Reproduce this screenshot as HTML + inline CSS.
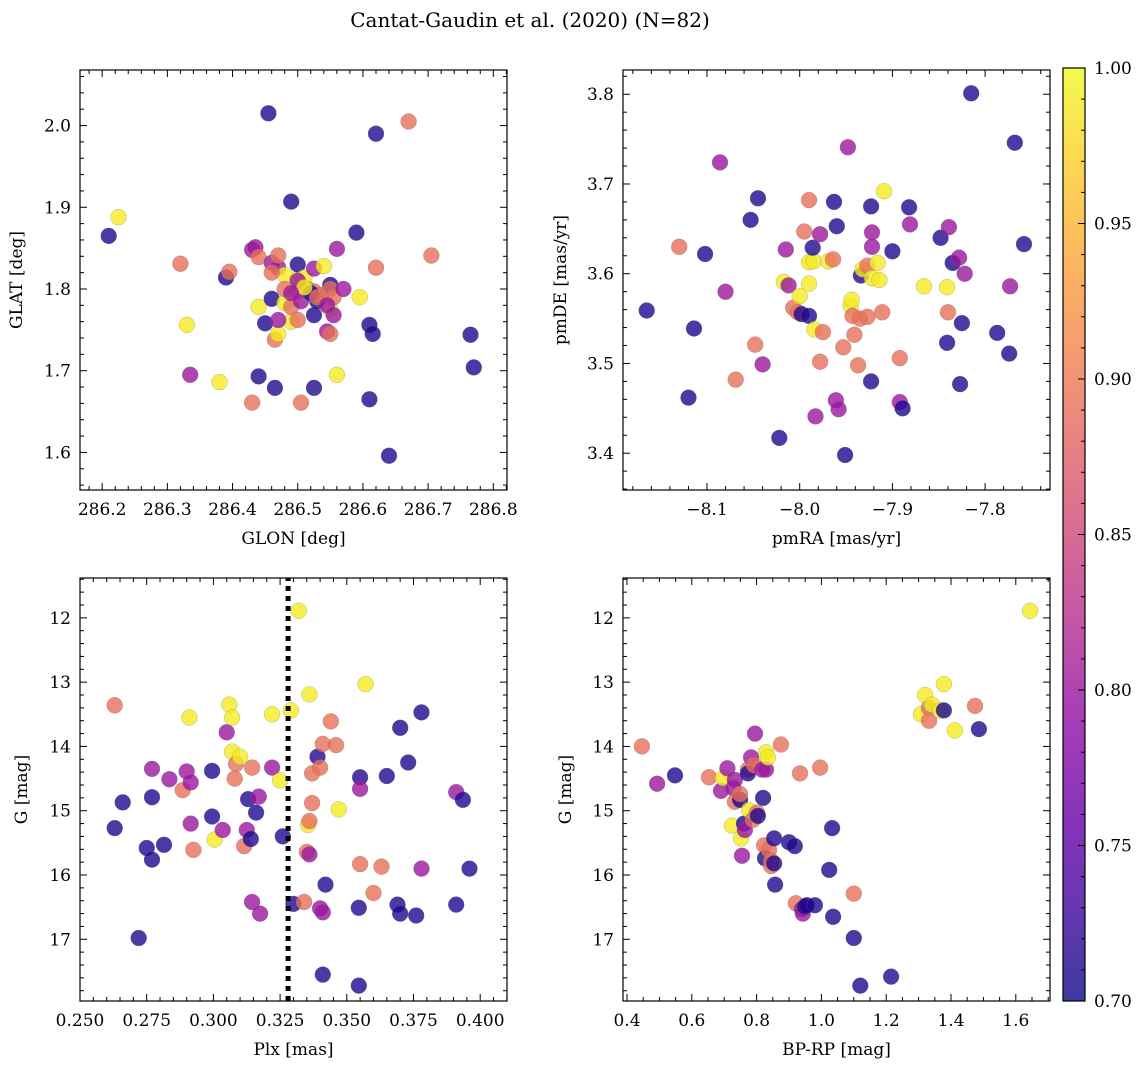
<!DOCTYPE html>
<html><head><meta charset="utf-8"><style>
body{margin:0;background:#fff;}
svg text{font-family:"DejaVu Serif","Liberation Serif",serif;fill:#000;}
</style></head><body>
<svg id="fig" width="1148" height="1068" viewBox="0 0 1148 1068" xmlns="http://www.w3.org/2000/svg">
<text x="530" y="27" font-size="20" text-anchor="middle">Cantat-Gaudin et al. (2020) (N=82)</text>
</svg>
<script>
// ---- Panel 1: GLON vs GLAT ----
const p1Glon=[286.21,286.225,286.32,286.33,286.335,286.38,286.39,286.395,286.43,286.43,286.435,286.44,286.44,286.44,286.45,286.455,286.46,286.46,286.465,286.465,286.47,286.47,286.47,286.48,286.48,286.49,286.49,286.49,286.5,286.5,286.5,286.505,286.505,286.51,286.515,286.525,286.525,286.525,286.525,286.53,286.535,286.54,286.545,286.55,286.55,286.55,286.55,286.555,286.56,286.56,286.555,286.57,286.59,286.595,286.61,286.61,286.615,286.62,286.62,286.64,286.67,286.705,286.765,286.77,286.5,286.52,286.48,286.46,286.51,286.53,286.49,286.545,286.5,286.47];
const p1Glat=[1.865,1.888,1.831,1.756,1.695,1.686,1.814,1.821,1.661,1.848,1.851,1.839,1.778,1.693,1.758,2.015,1.788,1.832,1.679,1.738,1.826,1.841,1.745,1.817,1.783,1.760,1.907,1.778,1.812,1.830,1.797,1.661,1.785,1.814,1.800,1.797,1.768,1.825,1.679,1.785,1.793,1.828,1.748,1.805,1.775,1.800,1.745,1.790,1.695,1.849,1.768,1.800,1.869,1.790,1.756,1.665,1.745,1.990,1.826,1.596,2.005,1.841,1.744,1.704,1.810,1.795,1.800,1.820,1.802,1.790,1.795,1.780,1.762,1.762];
const p1Prob=[0.71,0.99,0.89,0.99,0.80,0.99,0.71,0.89,0.89,0.80,0.80,0.89,0.99,0.71,0.71,0.71,0.71,0.80,0.71,0.89,0.80,0.89,0.99,0.99,0.99,0.99,0.71,0.89,0.99,0.71,0.89,0.89,0.80,0.99,0.89,0.89,0.71,0.80,0.71,0.71,0.89,0.99,0.80,0.71,0.99,0.89,0.89,0.89,0.99,0.80,0.80,0.80,0.71,0.99,0.71,0.71,0.71,0.71,0.89,0.71,0.89,0.89,0.71,0.71,0.80,0.71,0.89,0.89,0.99,0.89,0.80,0.80,0.89,0.80];
const p1XTicks=[286.2,286.3,286.4,286.5,286.6,286.7,286.8];
const p1YTicks=[1.6,1.7,1.8,1.9,2.0];
// ---- Panel 2: pmRA vs pmDE ----
const p2Pmra=[-8.165,-8.13,-8.102,-8.114,-8.12,-8.086,-8.08,-8.069,-8.053,-8.045,-8.048,-8.04,-8.022,-8.015,-8.017,-8.012,-8.007,-8.002,-8.0,-7.998,-7.995,-7.99,-7.99,-7.985,-7.99,-7.99,-7.986,-7.984,-7.983,-7.978,-7.975,-7.978,-7.969,-7.964,-7.96,-7.963,-7.961,-7.958,-7.951,-7.953,-7.948,-7.945,-7.944,-7.943,-7.941,-7.937,-7.935,-7.934,-7.932,-7.927,-7.927,-7.923,-7.923,-7.922,-7.922,-7.922,-7.916,-7.911,-7.909,-7.914,-7.9,-7.892,-7.892,-7.889,-7.881,-7.882,-7.866,-7.848,-7.841,-7.839,-7.835,-7.841,-7.84,-7.828,-7.825,-7.827,-7.822,-7.815,-7.787,-7.774,-7.773,-7.768,-7.758];
const p2Pmde=[3.559,3.630,3.622,3.539,3.462,3.724,3.580,3.482,3.660,3.684,3.521,3.499,3.417,3.627,3.591,3.587,3.562,3.557,3.575,3.555,3.647,3.682,3.613,3.614,3.589,3.553,3.629,3.538,3.441,3.644,3.535,3.502,3.614,3.616,3.653,3.680,3.459,3.449,3.398,3.518,3.741,3.564,3.571,3.553,3.532,3.498,3.550,3.598,3.605,3.609,3.552,3.480,3.675,3.595,3.630,3.646,3.612,3.557,3.692,3.593,3.625,3.506,3.457,3.450,3.655,3.674,3.586,3.640,3.585,3.652,3.612,3.523,3.557,3.618,3.545,3.477,3.600,3.801,3.534,3.511,3.586,3.746,3.633];
const p2Prob=[0.71,0.89,0.71,0.71,0.71,0.80,0.80,0.89,0.71,0.71,0.89,0.80,0.71,0.80,0.99,0.80,0.89,0.89,0.99,0.71,0.89,0.89,0.99,0.99,0.99,0.71,0.71,0.99,0.80,0.80,0.89,0.89,0.99,0.89,0.71,0.71,0.80,0.80,0.71,0.89,0.80,0.99,0.99,0.89,0.89,0.89,0.89,0.71,0.99,0.89,0.89,0.71,0.71,0.99,0.80,0.80,0.99,0.89,0.99,0.99,0.71,0.89,0.80,0.71,0.80,0.71,0.99,0.71,0.99,0.80,0.71,0.71,0.89,0.80,0.71,0.71,0.80,0.71,0.71,0.71,0.80,0.71,0.71];
const p2XTicks=[-8.1,-8.0,-7.9,-7.8];
const p2YTicks=[3.4,3.5,3.6,3.7,3.8];
// ---- Panel 3: Plx vs G ----
const p3Plx=[0.263,0.263,0.266,0.272,0.275,0.277,0.277,0.277,0.2815,0.2835,0.2885,0.291,0.29,0.2915,0.2915,0.2925,0.2995,0.2995,0.3005,0.3035,0.305,0.306,0.307,0.307,0.308,0.3085,0.31,0.3115,0.3125,0.313,0.314,0.3145,0.3145,0.316,0.317,0.3175,0.322,0.322,0.325,0.326,0.329,0.33,0.332,0.334,0.335,0.3355,0.336,0.336,0.336,0.337,0.337,0.339,0.34,0.34,0.341,0.341,0.341,0.342,0.344,0.346,0.347,0.355,0.355,0.355,0.3545,0.3545,0.357,0.36,0.363,0.365,0.369,0.37,0.37,0.373,0.376,0.378,0.378,0.391,0.391,0.3935,0.396];
const p3G=[13.36,15.27,14.87,16.98,15.58,14.35,14.79,15.76,15.53,14.51,14.68,13.55,14.39,14.56,15.20,15.61,14.38,15.09,15.45,15.30,13.78,13.35,13.55,14.08,14.50,14.27,14.16,15.55,15.30,14.82,15.44,14.33,16.42,15.03,14.78,16.60,13.50,14.33,14.53,15.40,13.44,16.45,11.89,16.42,15.64,15.22,15.16,13.19,15.68,14.42,14.88,14.16,14.33,16.52,13.96,16.58,17.55,16.15,13.61,13.98,14.98,14.48,14.66,15.83,16.51,17.72,13.03,16.28,15.87,14.46,16.46,16.60,13.71,14.25,16.63,13.47,15.90,14.71,16.46,14.83,15.90];
const p3Prob=[0.89,0.71,0.71,0.71,0.71,0.80,0.71,0.71,0.71,0.80,0.89,0.99,0.80,0.80,0.80,0.89,0.71,0.71,0.99,0.80,0.80,0.99,0.99,0.99,0.89,0.89,0.99,0.89,0.80,0.71,0.71,0.89,0.80,0.71,0.80,0.80,0.99,0.80,0.99,0.71,0.99,0.71,0.99,0.89,0.89,0.99,0.89,0.99,0.80,0.89,0.89,0.71,0.89,0.80,0.89,0.80,0.71,0.71,0.89,0.89,0.99,0.71,0.80,0.89,0.71,0.71,0.99,0.89,0.89,0.71,0.71,0.71,0.71,0.71,0.71,0.71,0.80,0.80,0.71,0.71,0.71];
const p3XTicks=[0.250,0.275,0.300,0.325,0.350,0.375,0.400];
const p3YTicks=[12,13,14,15,16,17];
const p3Cut=[0.328];
// ---- Panel 4: BP-RP vs G ----
const p4Bprp=[0.446,0.493,0.548,0.653,0.69,0.696,0.71,0.728,0.724,0.733,0.733,0.749,0.749,0.752,0.755,0.761,0.764,0.773,0.773,0.777,0.783,0.789,0.792,0.795,0.801,0.804,0.817,0.82,0.823,0.829,0.829,0.835,0.826,0.838,0.845,0.845,0.854,0.854,0.857,0.875,0.90,0.918,0.921,0.934,0.94,0.943,0.949,0.955,0.98,0.996,1.024,1.033,1.036,1.10,1.10,1.12,1.215,1.32,1.307,1.332,1.332,1.341,1.366,1.378,1.378,1.412,1.474,1.486,1.644];
const p4G=[14.00,14.58,14.45,14.48,14.69,14.49,14.34,14.65,15.23,14.52,14.86,14.83,14.74,15.43,15.70,15.20,15.30,14.36,14.42,14.99,14.17,15.14,14.29,13.80,15.03,15.08,14.36,14.80,15.54,14.36,14.09,14.17,15.74,15.61,15.78,15.86,15.82,15.43,16.15,13.97,15.49,15.55,16.44,14.42,16.53,16.60,16.49,16.47,16.47,14.33,15.92,15.27,16.65,16.29,16.98,17.72,17.58,13.20,13.50,13.40,13.60,13.35,13.44,13.44,13.03,13.75,13.37,13.73,11.89];
const p4Prob=[0.89,0.80,0.71,0.89,0.80,0.99,0.80,0.80,0.99,0.80,0.89,0.71,0.89,0.99,0.80,0.71,0.80,0.89,0.71,0.99,0.80,0.89,0.89,0.80,0.89,0.71,0.80,0.71,0.89,0.80,0.99,0.99,0.71,0.89,0.89,0.89,0.71,0.71,0.71,0.89,0.71,0.71,0.89,0.89,0.80,0.80,0.71,0.71,0.71,0.89,0.71,0.71,0.71,0.89,0.71,0.71,0.71,0.99,0.99,0.89,0.89,0.99,0.99,0.71,0.99,0.99,0.89,0.71,0.99];
const p4XTicks=[0.4,0.6,0.8,1.0,1.2,1.4,1.6];
const p4YTicks=[12,13,14,15,16,17];
// ---- Colorbar ----
const cbTicks=[0.70,0.75,0.80,0.85,0.90,0.95,1.00];

const NS="http://www.w3.org/2000/svg";
const svg=document.getElementById('fig');
function mk(tag,attrs,parent){const e=document.createElementNS(NS,tag);for(const k in attrs)e.setAttribute(k,attrs[k]);(parent||svg).appendChild(e);return e;}
const plasma=["#0d0887","#41049d","#6a00a8","#8f0da4","#b12a90","#cc4778","#e16462","#f2844b","#fca636","#fcce25","#f0f921"];
function hex(h){return[parseInt(h.substr(1,2),16),parseInt(h.substr(3,2),16),parseInt(h.substr(5,2),16)];}
function cmap(p){let t=Math.max(0,Math.min(1,(p-0.7)/0.3))*10;let i=Math.min(9,Math.floor(t));let f=t-i;const a=hex(plasma[i]),b=hex(plasma[i+1]);return "rgb("+a.map((v,k)=>Math.round(v+(b[k]-v)*f)).join(",")+")";}
function lin(d0,d1,r0,r1){return v=>r0+(v-d0)/(d1-d0)*(r1-r0);}
function fmt(v,dec){let s=v.toFixed(dec);return s.replace("-","\u2212");}
function isMajor(v,M){const r=v/M;return Math.abs(r-Math.round(r))<1e-6;}

function panel(o){
  const g=mk('g',{});
  
  
  const X=lin(o.xd[0],o.xd[1],o.x0,o.x1), Y=lin(o.yd[0],o.yd[1],o.y0,o.y1);
  const pg=mk('g',{},g);
  
  
  for(let i=0;i<o.xs.length;i++){
    const c=mk('circle',{cx:X(o.xs[i]).toFixed(1),cy:Y(o.ys[i]).toFixed(1),r:8,fill:cmap(o.ps[i]),'fill-opacity':0.8,stroke:'#777','stroke-width':0.4,'stroke-opacity':0.6},pg);
    
    
  }
  if(o.vline){for(const v of o.vline){const l=mk('line',{x1:X(v),x2:X(v),y1:o.y0,y2:o.y1,stroke:'#000','stroke-width':5,'stroke-dasharray':'5,5'},g);
    
    }}
  const f=mk('rect',{x:o.x0,y:o.y1,width:o.x1-o.x0,height:o.y0-o.y1,fill:'none',stroke:'#000','stroke-width':1.2},g);
  
  
  const tg=mk('g',{stroke:'#000','stroke-width':1},g);
  
  
  const eps=1e-9;
  let lo=Math.ceil((Math.min(o.xd[0],o.xd[1])-eps)/o.xm), hi=Math.floor((Math.max(o.xd[0],o.xd[1])+eps)/o.xm);
  for(let k=lo;k<=hi;k++){const v=k*o.xm,px=X(v);const L=isMajor(v,o.xM)?7:4;
    mk('line',{x1:px,x2:px,y1:o.y0,y2:o.y0-L},tg);mk('line',{x1:px,x2:px,y1:o.y1,y2:o.y1+L},tg);}
  lo=Math.ceil((Math.min(o.yd[0],o.yd[1])-eps)/o.ym); hi=Math.floor((Math.max(o.yd[0],o.yd[1])+eps)/o.ym);
  for(let k=lo;k<=hi;k++){const v=k*o.ym,py=Y(v);const L=isMajor(v,o.yM)?7:4;
    mk('line',{x1:o.x0,x2:o.x0+L,y1:py,y2:py},tg);mk('line',{x1:o.x1,x2:o.x1-L,y1:py,y2:py},tg);}
  for(const t of o.xt){const tx=mk('text',{x:X(t),y:o.y0+25,'font-size':17,'text-anchor':'middle'},g);tx.textContent=fmt(t,o.xdec);
    }
  for(const t of o.yt){const tx=mk('text',{x:o.x0-9,y:Y(t)+6,'font-size':17,'text-anchor':'end'},g);tx.textContent=fmt(t,o.ydec);
    }
  const xl=mk('text',{x:(o.x0+o.x1)/2,y:o.y0+54,'font-size':17,'text-anchor':'middle'},g);xl.textContent=o.xlab;
  
  const yx=o.ylx, yy=(o.y0+o.y1)/2;
  const yl=mk('text',{x:yx,y:yy,'font-size':17,'text-anchor':'middle',transform:'rotate(-90 '+yx+' '+yy+')'},g);yl.textContent=o.ylab;
  
}

panel({name:'glon-glat-panel',xs:p1Glon,ys:p1Glat,ps:p1Prob,x0:80,x1:507,y0:490,y1:70,xd:[286.166,286.821],yd:[1.554,2.068],xm:0.02,xM:0.1,ym:0.02,yM:0.1,xt:p1XTicks,yt:p1YTicks,xdec:1,ydec:1,xlab:'GLON [deg]',ylab:'GLAT [deg]',ylx:22});
panel({name:'pm-panel',xs:p2Pmra,ys:p2Pmde,ps:p2Prob,x0:623,x1:1050,y0:490,y1:70,xd:[-8.1+(623-707)/927,-8.1+(1050-707)/927],yd:[3.359,3.827],xm:0.02,xM:0.1,ym:0.02,yM:0.1,xt:p2XTicks,yt:p2YTicks,xdec:1,ydec:1,xlab:'pmRA [mas/yr]',ylab:'pmDE [mas/yr]',ylx:566});
panel({name:'plx-g-panel',xs:p3Plx,ys:p3G,ps:p3Prob,x0:80,x1:507,y0:1001,y1:578,xd:[0.250,0.25+427/2668],yd:[17.96,11.38],xm:0.005,xM:0.025,ym:0.2,yM:1,xt:p3XTicks,yt:p3YTicks,xdec:3,ydec:0,xlab:'Plx [mas]',ylab:'G [mag]',ylx:27,vline:p3Cut});
panel({name:'cmd-panel',xs:p4Bprp,ys:p4G,ps:p4Prob,x0:623,x1:1050,y0:1001,y1:578,xd:[0.4-4/324,0.4+423/324],yd:[17.96,11.38],xm:0.05,xM:0.2,ym:0.2,yM:1,xt:p4XTicks,yt:p4YTicks,xdec:1,ydec:0,xlab:'BP-RP [mag]',ylab:'G [mag]',ylx:571});

const cb=mk('g',{});


const defs=mk('defs',{},cb);
const grad=mk('linearGradient',{id:'pl',x1:0,y1:1,x2:0,y2:0},defs);
for(let i=0;i<=10;i++)mk('stop',{offset:i/10,'stop-color':plasma[i],'stop-opacity':0.8},grad);
const CB0=1001,CB1=68,cbx0=1063,cbx1=1085;
const CY=lin(0.7,1.0,CB0,CB1);
mk('rect',{x:cbx0,y:CB1,width:cbx1-cbx0,height:CB0-CB1,fill:'url(#pl)',stroke:'#000','stroke-width':1.2},cb);
for(let k=70;k<=100;k++){const py=CY(k/100);const major=k%5===0;mk('line',{x1:cbx1,x2:cbx1-(major?7:4),y1:py,y2:py,stroke:'#000','stroke-width':1},cb);}
for(const t of cbTicks){const tx=mk('text',{x:1094,y:CY(t)+6,'font-size':17},cb);tx.textContent=t.toFixed(2);
  }
</script>
</body></html>
